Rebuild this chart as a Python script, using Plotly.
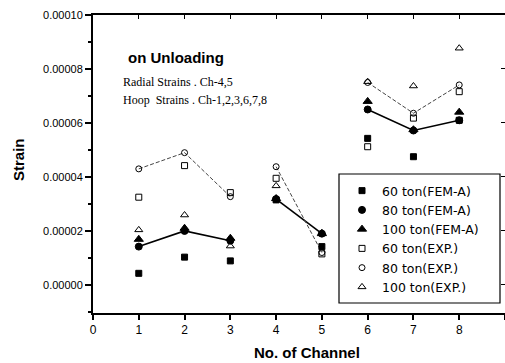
import plotly.graph_objects as go

channels = [1, 2, 3, 4, 5, 6, 7, 8]
fem60 = [0.43e-5, 1.03e-5, 0.89e-5, 3.15e-5, 1.42e-5, 5.43e-5, 4.75e-5, 6.10e-5]
fem80 = [1.42e-5, 2.00e-5, 1.64e-5, 3.18e-5, 1.90e-5, 6.50e-5, 5.72e-5, 6.10e-5]
fem100 = [1.69e-5, 2.10e-5, 1.73e-5, 3.20e-5, 1.90e-5, 6.80e-5, 5.75e-5, 6.40e-5]
exp60 = [3.25e-5, 4.42e-5, 3.42e-5, 3.95e-5, 1.15e-5, 5.12e-5, 6.18e-5, 7.16e-5]
exp80 = [4.30e-5, 4.90e-5, 3.27e-5, 4.38e-5, 1.20e-5, 7.50e-5, 6.36e-5, 7.41e-5]
exp100 = [2.04e-5, 2.59e-5, 1.44e-5, 3.67e-5, 1.93e-5, 7.53e-5, 7.37e-5, 8.77e-5]
groups = [[1, 2, 3], [4, 5], [6, 7, 8]]
ytick_vals = [0, 0.00002, 0.00004, 0.00006, 0.00008, 0.00010]

def gapped(vals):
    xs, ys = [], []
    for g in groups:
        for c in g:
            xs.append(c)
            ys.append(vals[channels.index(c)])
        xs.append(None)
        ys.append(None)
    return xs, ys

fig = go.Figure()
lx, ly = gapped(fem80)
fig.add_trace(go.Scatter(x=lx, y=ly, mode="lines", line=dict(color="black", width=1.6),
                         showlegend=False, hoverinfo="skip"))
lx, ly = gapped(exp80)
fig.add_trace(go.Scatter(x=lx, y=ly, mode="lines", line=dict(color="#444", width=1, dash="4px,2px"),
                         showlegend=False, hoverinfo="skip"))

series = [
    ("60 ton(FEM-A)", fem60, "square", 6),
    ("80 ton(FEM-A)", fem80, "circle", 7),
    ("100 ton(FEM-A)", fem100, "triangle-up", 8),
    ("60 ton(EXP.)", exp60, "square-open", 6),
    ("80 ton(EXP.)", exp80, "circle-open", 6),
    ("100 ton(EXP.)", exp100, "triangle-up-open", 7),
]
for name, vals, sym, sz in series:
    fig.add_trace(go.Scatter(x=channels, y=vals, mode="markers", name=name,
                             marker=dict(symbol=sym, size=sz, color="black",
                                         line=dict(color="black", width=1))))

axfont = dict(family="Liberation Sans, Arial, sans-serif", size=12, color="black")
PL, PT, PW, PH = 93, 15, 412, 298

def px(xp):
    return (xp - PL) / PW

def py(yp):
    return (PT + PH - yp) / PH

fig.update_layout(
    width=505, height=363,
    margin=dict(l=93, r=0, t=15, b=50),
    plot_bgcolor="white", paper_bgcolor="white",
    showlegend=True,
    legend=dict(x=px(342), y=py(176), xanchor="left", yanchor="top",
                bgcolor="rgba(0,0,0,0)", borderwidth=0,
                font=dict(family="DejaVu Sans, sans-serif", size=12.5, color="black")),
    xaxis=dict(range=[0, 9], tickvals=list(range(10)), ticks="outside", ticklen=5,
               tickcolor="black", tickwidth=1.5, showline=True, linecolor="black", linewidth=2,
               showgrid=False, zeroline=False, tickfont=axfont),
    yaxis=dict(range=[-0.0000104, 0.0001], tickvals=ytick_vals, tickformat=".5f",
               ticks="outside", ticklen=6, tickcolor="black", tickwidth=1.5,
               showline=True, linecolor="black", linewidth=2, showgrid=False, zeroline=False,
               tickfont=dict(family="Liberation Sans, Arial, sans-serif", size=11, color="black"),
               minor=dict(ticks="outside", ticklen=3, dtick=0.00001, tick0=0, tickcolor="black")),
    xaxis2=dict(range=[0, 9], overlaying="x", side="top", tickvals=list(range(10)), ticks="inside",
                ticklen=4, tickcolor="black", showline=True, linecolor="black", linewidth=2,
                showticklabels=False, showgrid=False, zeroline=False),
    yaxis2=dict(range=[-0.0000104, 0.0001], overlaying="y", side="right", tickvals=ytick_vals,
                ticks="inside", ticklen=4, tickcolor="black", showline=False,
                showticklabels=False, showgrid=False, zeroline=False),
)
fig.add_trace(go.Scatter(x=[None], y=[None], xaxis="x2", yaxis="y2", showlegend=False))

fig.add_shape(type="rect", xref="paper", yref="paper", x0=px(339), x1=px(500), y0=py(303), y1=py(174),
              line=dict(color="black", width=1.2), fillcolor="white", layer="below")

anns = [
    dict(text="<b>on Unloading</b>", x=px(126), y=py(57), xanchor="left",
         yanchor="middle", font=dict(family="Liberation Sans, Arial, sans-serif", size=15, color="black")),
    dict(text="Radial Strains . Ch-4,5", x=px(121), y=py(82), xanchor="left",
         yanchor="middle", font=dict(family="Liberation Serif, Times New Roman, serif", size=12, color="black")),
    dict(text="Hoop  Strains . Ch-1,2,3,6,7,8", x=px(121), y=py(100), xanchor="left",
         yanchor="middle", font=dict(family="Liberation Serif, Times New Roman, serif", size=12, color="black")),
    dict(text="<b>No. of Channel</b>", x=px(307), y=py(352), xanchor="center",
         yanchor="middle", font=dict(family="Liberation Sans, Arial, sans-serif", size=15, color="black")),
    dict(text="<b>Strain</b>", x=px(18), y=py(160), xanchor="center",
         yanchor="middle", textangle=-90,
         font=dict(family="Liberation Sans, Arial, sans-serif", size=15, color="black")),
]
for a in anns:
    fig.add_annotation(xref="paper", yref="paper", showarrow=False, **a)

fig.write_html("out.html")
